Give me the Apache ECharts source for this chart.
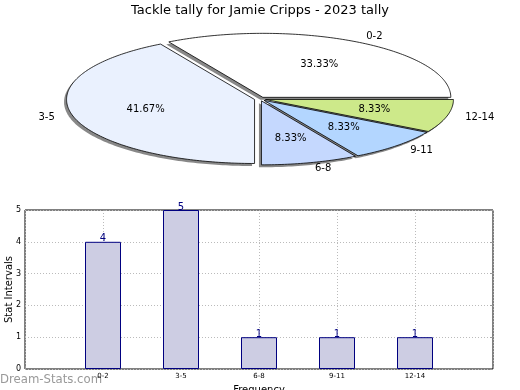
<!DOCTYPE html>
<html><head><meta charset="utf-8">
<script src="https://cdn.jsdelivr.net/npm/echarts@6/dist/echarts.min.js"></script>
<style>html,body{margin:0;padding:0;background:#fff}#c{width:520px;height:390px}</style>
</head><body><div id="c"></div>
<script>
const categories = ['0-2', '3-5', '6-8', '9-11', '12-14'];
const counts = [4, 5, 1, 1, 1];
const yTicks = [0, 1, 2, 3, 4, 5];
const sliceColors = ['#ffffff', '#eaf1fe', '#c5d8fe', '#b3d6ff', '#cde98a'];

const total = counts.reduce((a, b) => a + b, 0);
const FONT = 'DejaVu Sans';
const PIE = { cx: 260, cy: 99, rx: 188, ry: 64, explode: 0.03, shadow: [-2.5, 2.5] };

function renderSlice(params, api) {
  const i = params.dataIndex;
  let start = 0;
  for (let k = 0; k < i; k++) start += counts[k] / total * 360;
  const sweep = api.value(0) / total * 360;
  const end = start + sweep;
  const mid = (start + end) / 2 * Math.PI / 180;
  const cosm = Math.cos(mid), sinm = Math.sin(mid);
  const vx = PIE.cx + PIE.explode * PIE.rx * cosm;
  const vy = PIE.cy - PIE.explode * PIE.ry * sinm;
  const pts = [[vx, vy]];
  const n = Math.max(10, Math.ceil(sweep));
  for (let j = 0; j <= n; j++) {
    const a = (start + sweep * j / n) * Math.PI / 180;
    pts.push([vx + PIE.rx * Math.cos(a), vy - PIE.ry * Math.sin(a)]);
  }
  const shadowPts = pts.map(p => [p[0] + PIE.shadow[0], p[1] + PIE.shadow[1]]);
  return {
    type: 'group',
    children: [
      { type: 'polygon', shape: { points: shadowPts }, style: { fill: '#888888' }, z2: 0, silent: true },
      { type: 'polygon', shape: { points: pts }, style: { fill: sliceColors[i], stroke: '#000', lineWidth: 0.8 }, z2: 1 },
      { type: 'text', x: vx + 0.6 * PIE.rx * cosm, y: vy - 0.6 * PIE.ry * sinm, z2: 3,
        style: { text: (api.value(0) / total * 100).toFixed(2) + '%', fontSize: 10, fontFamily: FONT, fill: '#000', align: 'center', verticalAlign: 'middle' } },
      { type: 'text', x: vx + 1.1 * PIE.rx * cosm, y: vy - 1.1 * PIE.ry * sinm, z2: 3,
        style: { text: categories[i], fontSize: 10, fontFamily: FONT, fill: '#000', align: cosm > 0 ? 'left' : 'right', verticalAlign: 'middle' } }
    ]
  };
}

const chart = echarts.init(document.getElementById('c'), null, { renderer: 'canvas' });
chart.setOption({
  animation: false,
  backgroundColor: '#fff',
  title: {
    text: 'Tackle tally for Jamie Cripps - 2023 tally',
    left: 'center', top: -1,
    textStyle: { fontFamily: FONT, fontSize: 13, fontWeight: 'normal', color: '#000' }
  },
  graphic: [{
    type: 'text', left: 0, top: 373,
    style: { text: 'Dream-Stats.com', fontFamily: 'DejaVu Sans Condensed', fontSize: 13, fill: '#999999' }
  }],
  grid: { left: 25, right: 27, top: 210, bottom: 21, show: true, borderColor: '#000', borderWidth: 1, containLabel: false, outerBoundsMode: 'none' },
  xAxis: {
    type: 'value', min: -1, max: 5, interval: 1,
    axisLine: { show: false },
    axisTick: { show: true, inside: true, length: 3, lineStyle: { color: '#999' } },
    axisLabel: { formatter: v => categories[v] || '', fontFamily: FONT, fontSize: 7, color: '#000', margin: 4 },
    splitLine: { show: true, lineStyle: { color: '#bbb', type: [1, 2], width: 1 } },
    name: 'Frequency', nameLocation: 'middle', nameGap: 16, nameMoveOverlap: false,
    nameTextStyle: { fontFamily: FONT, fontSize: 10, color: '#000' }
  },
  yAxis: [{
    type: 'value', min: 0, max: 5, interval: 1,
    axisLine: { show: false },
    axisTick: { show: true, inside: true, length: 3, lineStyle: { color: '#999' } },
    axisLabel: { formatter: v => yTicks.includes(v) ? String(v) : '', fontFamily: FONT, fontSize: 8, color: '#000', margin: 4 },
    splitLine: { show: true, lineStyle: { color: '#bbb', type: [1, 2], width: 1 } },
    name: 'Stat Intervals', nameLocation: 'middle', nameGap: 11, nameMoveOverlap: false,
    nameTextStyle: { fontFamily: FONT, fontSize: 10, color: '#000' }
  }, {
    type: 'value', min: 0, max: 5, interval: 1, position: 'right',
    axisLine: { show: false },
    axisTick: { show: true, inside: true, length: 3, lineStyle: { color: '#999' } },
    axisLabel: { show: false }, splitLine: { show: false }
  }],
  series: [{
    type: 'custom', coordinateSystem: 'none', renderItem: renderSlice,
    data: counts.map(v => [v])
  }, {
    type: 'bar', xAxisIndex: 0, yAxisIndex: 0,
    data: counts.map((v, i) => [i, v]),
    barWidth: 36,
    itemStyle: { color: '#cdcde3', borderColor: '#000080', borderWidth: 1 },
    label: { show: true, position: 'top', distance: 0, offset: [0, 2], color: '#000080', fontFamily: FONT, fontSize: 10 }
  }]
});
</script></body></html>
